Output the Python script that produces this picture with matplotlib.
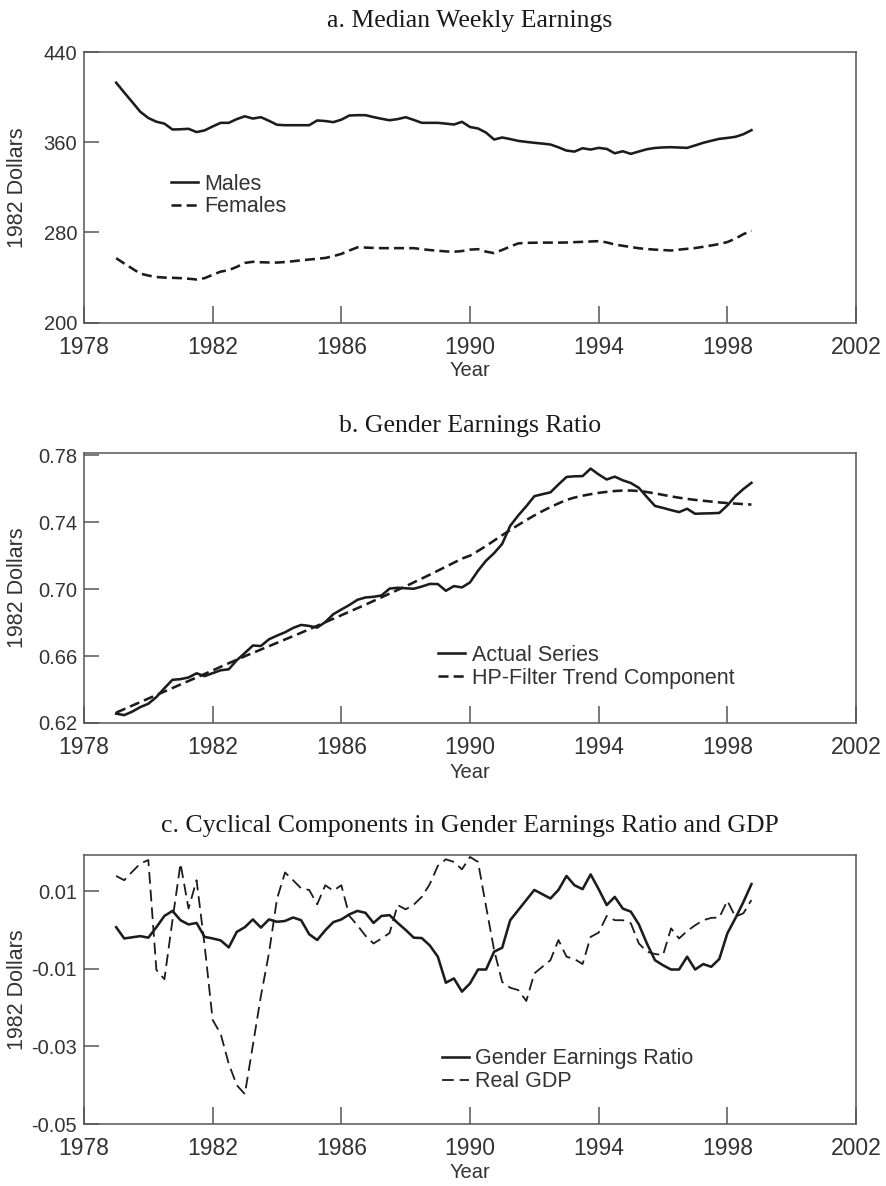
import numpy as np
import matplotlib
matplotlib.use("Agg")
import matplotlib.pyplot as plt

plt.rcParams['font.family'] = ['Liberation Sans', 'DejaVu Sans']
plt.rcParams['axes.unicode_minus'] = False

# ---------------- data (quarterly, 1979Q1 - 1998Q4) ----------------
start_year = 1979.0
males = [
    412.8, 404.1, 395.6, 387.0,
    381.5, 378.2, 376.5, 371.3,
    371.5, 371.9, 369.0, 370.5,
    374.0, 377.2, 377.2, 380.5,
    383.0, 381.0, 382.2, 379.0,
    375.5, 375.1, 375.1, 375.1,
    375.1, 379.3, 378.8, 377.8,
    380.0, 383.7, 384.0, 384.0,
    382.3, 380.8, 379.5, 380.5,
    382.2, 379.8, 377.2, 377.2,
    377.2, 376.5, 375.7, 378.1,
    373.5, 372.2, 368.5, 362.4,
    364.2, 362.8, 361.2, 360.3,
    359.5, 358.8, 358.0, 355.5,
    352.6, 351.7, 354.7, 353.5,
    355.0, 354.1, 350.2, 352.0,
    349.7, 351.8, 353.8, 354.9,
    355.4, 355.6, 355.3, 355.0,
    357.2, 359.5, 361.3, 363.0,
    363.8, 364.8, 367.1, 370.7,
]
females = [
    257.2, 252.5, 248.0, 243.5,
    241.8, 240.5, 240.0, 239.8,
    239.5, 239.0, 238.3, 239.5,
    242.5, 245.3, 246.6, 249.5,
    253.0, 254.0, 253.6, 253.4,
    253.3, 253.8, 254.5, 255.3,
    256.0, 256.7, 257.4, 259.0,
    261.0, 264.0, 266.8, 266.6,
    266.3, 266.1, 266.1, 266.1,
    266.1, 266.1, 265.2, 264.4,
    263.8, 263.2, 262.9, 263.5,
    264.8, 265.2, 263.0, 261.7,
    264.5, 267.5, 270.3, 270.8,
    270.9, 271.0, 271.0, 271.0,
    271.1, 271.4, 271.7, 272.0,
    272.3, 271.2, 269.3, 268.2,
    267.1, 266.0, 265.3, 264.8,
    264.4, 264.0, 264.8, 265.5,
    266.2, 267.3, 268.5, 269.7,
    271.5, 274.5, 278.5, 281.5,
]
ratio_actual = [
    0.6256, 0.6247, 0.6268, 0.6295,
    0.6315, 0.6355, 0.6408, 0.6458,
    0.6462, 0.6472, 0.6497, 0.6480,
    0.6498, 0.6515, 0.6521, 0.6575,
    0.6618, 0.6663, 0.6660, 0.6700,
    0.6722, 0.6742, 0.6768, 0.6786,
    0.6780, 0.6770, 0.6803, 0.6850,
    0.6878, 0.6905, 0.6936, 0.6950,
    0.6954, 0.6962, 0.7003, 0.7008,
    0.7005, 0.7002, 0.7015, 0.7031,
    0.7030, 0.6990, 0.7018, 0.7010,
    0.7040, 0.7110, 0.7170, 0.7215,
    0.7270, 0.7378, 0.7440, 0.7495,
    0.7555, 0.7567, 0.7578, 0.7625,
    0.7670, 0.7674, 0.7675, 0.7720,
    0.7685, 0.7655, 0.7672, 0.7650,
    0.7634, 0.7605, 0.7550, 0.7497,
    0.7485, 0.7472, 0.7460, 0.7480,
    0.7450, 0.7452, 0.7453, 0.7455,
    0.7500, 0.7555, 0.7598, 0.7635,
]
ratio_trend = [
    0.6262, 0.6283, 0.6304, 0.6325,
    0.6346, 0.6367, 0.6388, 0.6409,
    0.6430, 0.6451, 0.6472, 0.6493,
    0.6514, 0.6536, 0.6557, 0.6578,
    0.6599, 0.6619, 0.6639, 0.6659,
    0.6679, 0.6699, 0.6719, 0.6739,
    0.6760, 0.6781, 0.6802, 0.6823,
    0.6844, 0.6865, 0.6886, 0.6907,
    0.6929, 0.6951, 0.6973, 0.6995,
    0.7017, 0.7040, 0.7063, 0.7086,
    0.7110, 0.7134, 0.7158, 0.7182,
    0.7200, 0.7228, 0.7258, 0.7290,
    0.7322, 0.7353, 0.7383, 0.7412,
    0.7440, 0.7466, 0.7490, 0.7512,
    0.7533, 0.7547, 0.7558, 0.7567,
    0.7575, 0.7581, 0.7586, 0.7589,
    0.7589, 0.7586, 0.7580, 0.7572,
    0.7563, 0.7554, 0.7546, 0.7539,
    0.7533, 0.7528, 0.7523, 0.7518,
    0.7514, 0.7511, 0.7508, 0.7505,
]
cyc_ratio = [
    0.0007, -0.0022, -0.0019, -0.0016,
    -0.0020, 0.0007, 0.0036, 0.0049,
    0.0025, 0.0014, 0.0018, -0.0018,
    -0.0022, -0.0027, -0.0045, -0.0005,
    0.0007, 0.0027, 0.0006, 0.0027,
    0.0021, 0.0023, 0.0032, 0.0025,
    -0.0011, -0.0026, -0.0001, 0.0020,
    0.0027, 0.0040, 0.0049, 0.0044,
    0.0018, 0.0036, 0.0038, 0.0018,
    0.0000, -0.0020, -0.0021, -0.0040,
    -0.0069, -0.0136, -0.0125, -0.0159,
    -0.0138, -0.0102, -0.0102, -0.0056,
    -0.0046, 0.0025, 0.0051, 0.0077,
    0.0103, 0.0092, 0.0081, 0.0103,
    0.0139, 0.0115, 0.0105, 0.0143,
    0.0105, 0.0064, 0.0085, 0.0055,
    0.0047, 0.0014, -0.0035, -0.0078,
    -0.0091, -0.0102, -0.0102, -0.0069,
    -0.0102, -0.0088, -0.0095, -0.0075,
    -0.0009, 0.0030, 0.0072, 0.0118,
]
cyc_gdp = [
    0.0139, 0.0128, 0.0150, 0.0171,
    0.0180, -0.0103, -0.0127, 0.0025,
    0.0171, 0.0055, 0.0128, -0.0040,
    -0.0232, -0.0268, -0.0345, -0.0400,
    -0.0423, -0.0297, -0.0170, -0.0060,
    0.0080, 0.0148, 0.0128, 0.0107,
    0.0103, 0.0066, 0.0115, 0.0101,
    0.0115, 0.0036, 0.0012, -0.0015,
    -0.0035, -0.0022, -0.0008, 0.0064,
    0.0053, 0.0065, 0.0085, 0.0118,
    0.0165, 0.0182, 0.0175, 0.0156,
    0.0188, 0.0175, 0.0060, -0.0052,
    -0.0134, -0.0149, -0.0155, -0.0183,
    -0.0112, -0.0095, -0.0078, -0.0026,
    -0.0069, -0.0075, -0.0088, -0.0018,
    -0.0007, 0.0036, 0.0025, 0.0025,
    0.0017, -0.0035, -0.0056, -0.0062,
    -0.0065, 0.0004, -0.0022, -0.0003,
    0.0012, 0.0025, 0.0031, 0.0032,
    0.0075, 0.0034, 0.0043, 0.0077,
]
x_ticks = [1978, 1982, 1986, 1990, 1994, 1998, 2002]
a_yticks = [200, 280, 360, 440]
b_yticks = [0.62, 0.66, 0.70, 0.74, 0.78]
c_yticks = [-0.05, -0.03, -0.01, 0.01]
c_ylabels = ['-0.05', '-0.03', '-0.01', '0.01']

titles = ['a. Median Weekly Earnings', 'b. Gender Earnings Ratio',
          'c. Cyclical Components in Gender Earnings Ratio and GDP']

quarters = start_year + 0.25 * np.arange(len(males))

# ---------------- figure ----------------
W, H = 887, 1186
fig = plt.figure(figsize=(W / 100, H / 100), dpi=100)

def ax_at(left, top, right, bottom):
    return fig.add_axes([left / W, 1 - bottom / H, (right - left) / W, (bottom - top) / H])

INK = '#1c1c1c'
FRAME = '#555555'
TXT = '#333333'
LW = 1.85

def style(ax):
    for s in ax.spines.values():
        s.set_color(FRAME)
        s.set_linewidth(1.1)
    ax.set_xlim(1978, 2002)
    ax.set_xticks(x_ticks)
    ax.set_xticklabels([str(t) for t in x_ticks])
    ax.tick_params(axis='x', direction='in', length=12.2, width=1.1, color=FRAME,
                   labelsize=16.5, pad=9.5, labelcolor=TXT)
    ax.tick_params(axis='y', direction='in', length=10.8, width=1.1, color=FRAME,
                   labelsize=14.5, pad=5, labelcolor=TXT)

axes_px = [(84, 52, 856, 322.7), (84, 452.7, 856, 723), (84, 855, 856, 1124)]
ax_a = ax_at(*axes_px[0])
ax_b = ax_at(*axes_px[1])
ax_c = ax_at(*axes_px[2])

# panel a
ax_a.plot(quarters, males, color=INK, lw=LW, label='Males')
ax_a.plot(quarters, females, color=INK, lw=LW, ls=(0, (3.9, 2.0)), label='Females')
ax_a.set_ylim(200, 440)
ax_a.set_yticks(a_yticks)
ax_a.set_yticklabels([str(t) for t in a_yticks])

# panel b
ax_b.plot(quarters, ratio_actual, color=INK, lw=LW, label='Actual Series')
ax_b.plot(quarters, ratio_trend, color=INK, lw=LW, ls=(0, (3.9, 2.0)),
          label='HP-Filter Trend Component')
ax_b.set_ylim(0.62, 0.7815)
ax_b.set_yticks(b_yticks)
ax_b.set_yticklabels(['%.2f' % t for t in b_yticks])

# panel c
ax_c.plot(quarters, cyc_ratio, color=INK, lw=LW, label='Gender Earnings Ratio')
ax_c.plot(quarters, cyc_gdp, color=INK, lw=1.3, ls=(0, (6.5, 3.3)), label='Real GDP')
ax_c.set_ylim(-0.05, 0.0193)
ax_c.set_yticks(c_yticks)
ax_c.set_yticklabels(c_ylabels)

for ax in (ax_a, ax_b, ax_c):
    style(ax)

# legends
leg_pos = [(170.7, 195.5), (438.3, 666.8), (441.7, 1070.2)]
for ax, (lx, ly) in zip((ax_a, ax_b, ax_c), leg_pos):
    leg = ax.legend(loc='center left', bbox_to_anchor=(lx / W, 1 - ly / H),
                    bbox_transform=fig.transFigure, frameon=False, borderpad=0,
                    borderaxespad=0, handlelength=1.25, handletextpad=0.3,
                    labelspacing=0.08, fontsize=15.5)
    for t in leg.get_texts():
        t.set_color(TXT)

# titles
title_y = [27.5, 431.7, 832.0]
for (l, t, r, b), ttl, ty in zip(axes_px, titles, title_y):
    fig.text(((l + r) / 2) / W, 1 - ty / H, ttl, ha='center', va='baseline',
             fontsize=18.5, family=['Liberation Serif', 'DejaVu Serif'], color='#1a1a1a')

# y labels and x labels
year_y = [370, 772, 1172]
for (l, t, r, b), yy in zip(axes_px, year_y):
    fig.text(18 / W, 1 - ((t + b) / 2) / H, '1982 Dollars', rotation=90,
             ha='center', va='center', fontsize=15.5, color=TXT)
    fig.text(((l + r) / 2) / W, 1 - yy / H, 'Year', ha='center', va='center',
             fontsize=14.5, color=TXT)

fig.savefig('out.png', dpi=100)
